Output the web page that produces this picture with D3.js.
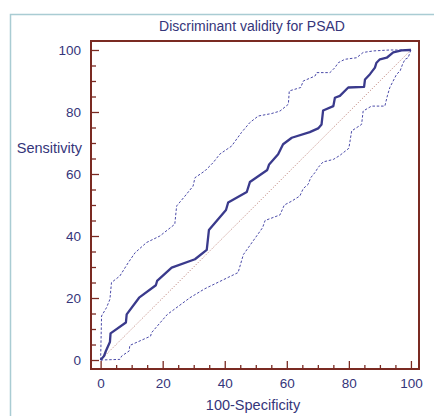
<!DOCTYPE html>
<html><head><meta charset="utf-8">
<script src="https://cdn.jsdelivr.net/npm/d3@7"></script>
<style>body{margin:0;background:#fff}svg{display:block}text{font-family:"Liberation Sans",Arial,sans-serif}</style>
</head><body><svg id="c" width="434" height="416"></svg>
<script>
const title = "Discriminant validity for PSAD";
const xLabel = "100-Specificity";
const yLabel = "Sensitivity";
const tickValues = [0, 20, 40, 60, 80, 100];
const rocX = [0,1.1,1.7,3.0,3.2,8.15,8.4,12.4,17.8,18.2,22.9,30.4,34.2,34.9,40.4,41.1,47.1,48.1,53.7,54.3,57.2,58.8,61.6,67.4,70.1,71.2,71.7,75.0,75.5,77.1,79.8,84.9,85.2,86.8,88.4,88.9,90.0,92.2,94.3,97.0,99.7,100];
const rocY = [0,1.3,2.9,5.8,8.6,12.1,14.7,20.1,24.1,25.5,29.8,32.5,35.5,41.9,48.4,50.8,54.2,57.4,61.3,63.1,66.4,69.6,71.7,73.5,74.7,76.0,80.5,81.9,84.6,85.2,87.9,88.1,90.5,92.2,94.3,95.9,97.0,97.5,99.2,99.9,100,100];
const upX = [0,0.3,1.9,3.0,3.5,6.2,8.9,11.1,14.8,19.1,23.9,24.5,27.2,29.8,30.4,33.6,36.3,38.4,42.2,45.4,48.1,50.8,55.1,57.8,60.5,60.8,64.5,65.3,69.1,69.6,73.9,75.5,76.6,78.7,82.5,84.6,87.9,93.2,100];
const upY = [0,14.2,16.9,19.6,25.0,27.1,31.4,34.6,37.9,40.0,43.8,49.7,52.9,56.1,58.8,61.0,63.7,66.4,69.0,73.4,76.6,78.7,79.5,80.3,82.5,86.8,87.9,90.0,91.6,92.7,92.7,94.3,95.9,97.0,97.5,99.2,99.7,100,100];
const loX = [0,6.2,6.8,9.2,9.4,16.1,16.4,21.5,28.8,33.6,44.3,46.0,52.2,53.0,57.8,59.2,61.5,64.2,65.3,66.9,67.7,69.1,70.1,71.7,75.0,77.1,80.0,80.9,84.1,84.6,87.3,91.6,92.4,93.2,95.4,96.5,97.3,98.1,99.1,99.7,100];
const loY = [0,0.2,1.3,2.9,4.7,7.7,8.8,14.7,20.1,23.0,28.2,34.0,42.7,45.0,46.8,50.0,51.2,52.9,55.3,56.7,58.8,60.5,62.1,63.9,64.7,66.0,68.3,73.9,76.0,80.3,81.9,81.9,85.2,87.9,92.2,93.2,95.4,97.0,97.5,99.2,100];

const svg = d3.select("#c");
const L = 91, T = 41, R = 419, B = 369;
const x = d3.scaleLinear().domain([-3.1, 102.6]).range([L, R]);
const y = d3.scaleLinear().domain([-2.9, 102.9]).range([B, T]);
const txt = "#35357a", frame = "#7a2a22", line = "#3a3a8c";

svg.append("rect").attr("x",10.5).attr("y",14.5).attr("width",440).attr("height",420)
  .attr("fill","none").attr("stroke","#a9ccd3").attr("stroke-width",1.5);

svg.append("text").attr("x",252).attr("y",31).attr("text-anchor","middle")
  .attr("font-size",14).attr("fill",txt).text(title);

const minor = d3.range(0, 101, 5);
// y axis
const yAx = svg.append("g").attr("transform",`translate(${L},0)`)
  .call(d3.axisRight(y).tickValues(minor).tickSize(0).tickFormat(""));
yAx.select(".domain").remove();
yAx.selectAll(".tick line").attr("x2", d => d % 20 === 0 ? 8 : 5).attr("stroke", frame).attr("stroke-width",1.3);
svg.append("g").attr("transform",`translate(${L-7},0)`)
  .call(d3.axisLeft(y).tickValues(tickValues).tickSize(0))
  .call(g => g.select(".domain").remove())
  .selectAll("text").attr("font-size",13.5).attr("fill",txt).attr("font-family","Liberation Sans, Arial, sans-serif");
// x axis
const xAx = svg.append("g").attr("transform",`translate(0,${B})`)
  .call(d3.axisTop(x).tickValues(minor).tickSize(0).tickFormat(""));
xAx.select(".domain").remove();
xAx.selectAll(".tick line").attr("y2", d => d % 20 === 0 ? -8 : -4).attr("stroke", frame).attr("stroke-width",1.3);
svg.append("g").attr("transform",`translate(0,${B+6})`)
  .call(d3.axisBottom(x).tickValues(tickValues).tickSize(0))
  .call(g => g.select(".domain").remove())
  .selectAll("text").attr("font-size",13.5).attr("fill",txt).attr("font-family","Liberation Sans, Arial, sans-serif");

svg.append("text").attr("x",82).attr("y",153).attr("text-anchor","end")
  .attr("font-size",14.5).attr("fill",txt).text(yLabel);
svg.append("text").attr("x",253).attr("y",410).attr("text-anchor","middle")
  .attr("font-size",14.5).attr("fill",txt).text(xLabel);

const lg = d3.line().x(d => x(d[0])).y(d => y(d[1]));
// diagonal
svg.append("path").attr("d", lg([[0,0],[100,100]])).attr("fill","none")
  .attr("stroke","#b06a60").attr("stroke-width",0.9).attr("stroke-dasharray","1,1.8");
svg.append("path").attr("d", lg(upX.map((v,i)=>[v,upY[i]]))).attr("fill","none")
  .attr("stroke","#4a4aa8").attr("stroke-width",1).attr("stroke-dasharray","2.5,1.8");
svg.append("path").attr("d", lg(loX.map((v,i)=>[v,loY[i]]))).attr("fill","none")
  .attr("stroke","#4a4aa8").attr("stroke-width",1).attr("stroke-dasharray","2.5,1.8");
svg.append("path").attr("d", lg(rocX.map((v,i)=>[v,rocY[i]]))).attr("fill","none")
  .attr("stroke",line).attr("stroke-width",2.3).attr("stroke-linejoin","round");

svg.append("rect").attr("x",L).attr("y",T).attr("width",R-L).attr("height",B-T)
  .attr("fill","none").attr("stroke",frame).attr("stroke-width",2);
</script></body></html>
